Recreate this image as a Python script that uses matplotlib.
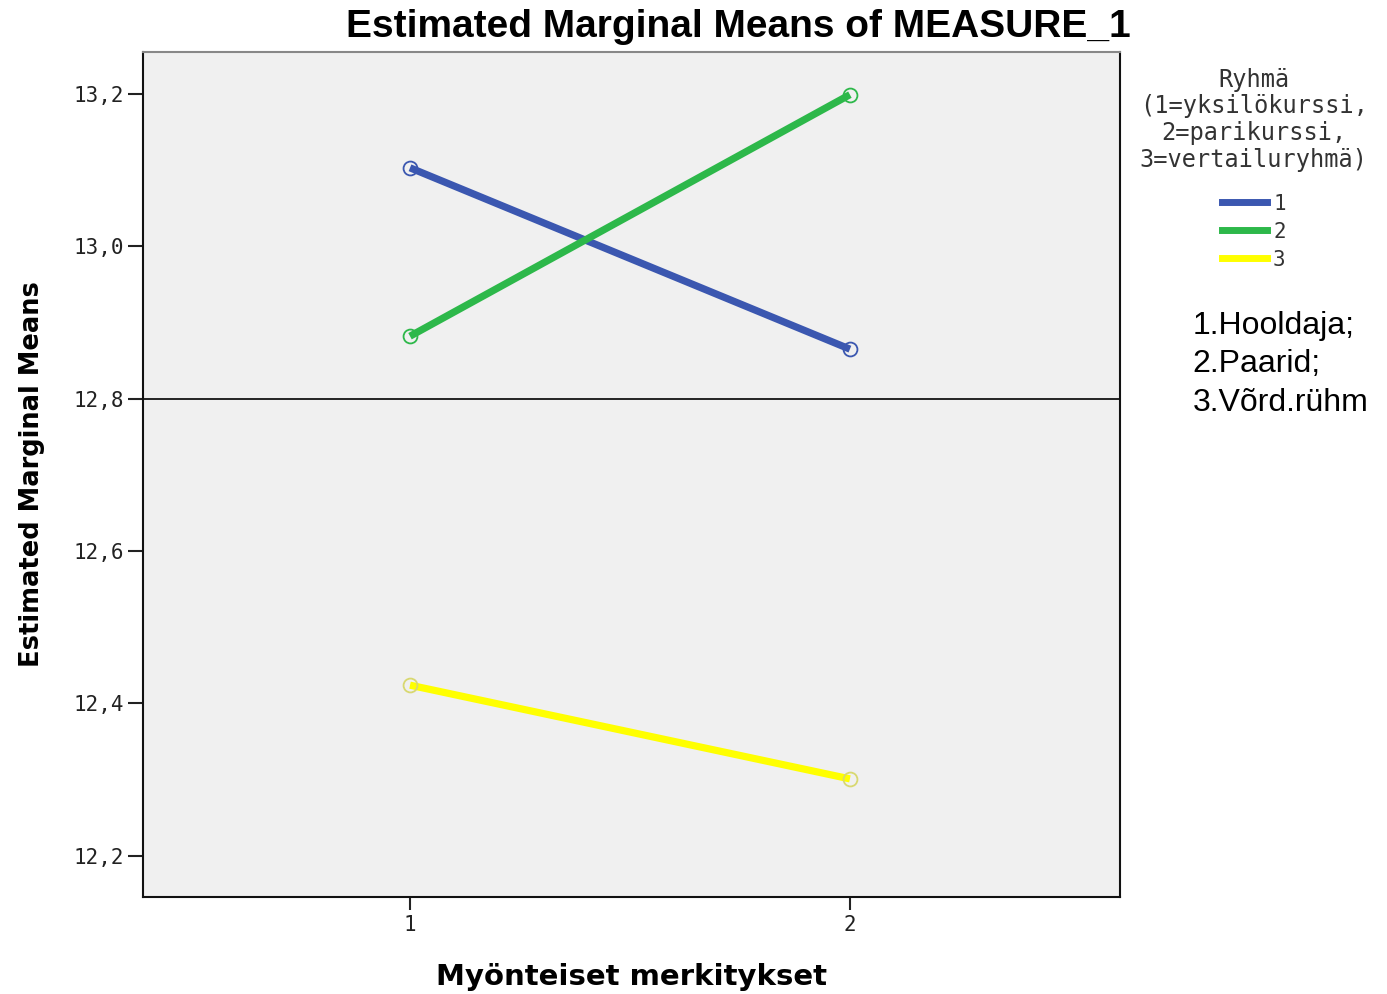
import numpy as np
import matplotlib
matplotlib.use("Agg")
import matplotlib.pyplot as plt
from matplotlib.lines import Line2D

# data
x_levels = [1, 2]
groups = ["1", "2", "3"]
means_g1 = [13.103, 12.865]
means_g2 = [12.882, 13.199]
means_g3 = [12.424, 12.301]
y_ticks = [12.2, 12.4, 12.6, 12.8, 13.0, 13.2]
ref_line = 12.8

colors = ["#3b57b0", "#2db84a", "#ffff00"]
edge_colors = ["#3b57b0", "#2db84a", "#d8d870"]
mono = "DejaVu Sans Mono"

fig = plt.figure(figsize=(13.87, 9.94), dpi=100)
ax = fig.add_axes([0.1031, 0.0976, 0.7044, 0.8501])
ax.set_facecolor("#f0f0f0")

for vals, c, ec in zip([means_g1, means_g2, means_g3], colors, edge_colors):
    ax.plot(x_levels, vals, color=c, linewidth=5.2, solid_capstyle="butt")
    ax.plot(x_levels, vals, linestyle="none", marker="o", markersize=10,
            markerfacecolor="none", markeredgecolor=ec, markeredgewidth=1.3)

ax.axhline(ref_line, color="black", linewidth=1.2)

ax.set_xlim(0.393, 2.614)
ax.set_ylim(12.146, 13.255)
ax.set_xticks(x_levels)
ax.set_xticklabels([str(v) for v in x_levels], family=mono, fontsize=15)
ax.set_yticks(y_ticks)
ax.set_yticklabels([f"{v:.1f}".replace(".", ",") for v in y_ticks], family=mono, fontsize=15)
ax.tick_params(axis="y", direction="out", length=11, width=1.5, colors="#222222", pad=3)
ax.tick_params(axis="x", direction="out", length=9, width=1.5, colors="#222222", pad=4)

for side in ["left", "bottom", "right"]:
    ax.spines[side].set_linewidth(1.5)
    ax.spines[side].set_color("#111111")
ax.spines["top"].set_color("#888888")
ax.spines["top"].set_linewidth(1.5)

ax.set_xlabel("Myönteiset merkitykset", fontsize=21, fontweight="bold", labelpad=20)
ax.set_ylabel("Estimated Marginal Means", fontsize=18.5, fontweight="bold", labelpad=20)
fig.text(0.532, 0.973, "Estimated Marginal Means of MEASURE_1", fontsize=28,
         fontweight="bold", family="Liberation Sans", ha="center", va="center")

# legend title drawn on its own so it can sit a bit higher than the entries
fig.text(0.904, 0.8795, "Ryhmä\n(1=yksilökurssi,\n2=parikurssi,\n3=vertailuryhmä)",
         family=mono, fontsize=17, color="#333333", ha="center", va="center",
         multialignment="center", linespacing=1.15)

handles = [Line2D([0], [0], color=c, linewidth=5) for c in colors]
fig.legend(handles, groups, loc="upper center", bbox_to_anchor=(0.904, 0.824),
           frameon=False, handlelength=2.15, handletextpad=0.3,
           labelspacing=0.38, labelcolor="#333333",
           prop={"family": mono, "size": 15})

fig.text(0.86, 0.6335, "1.Hooldaja;\n2.Paarid;\n3.Võrd.rühm", fontsize=23,
         family="Liberation Sans", va="center", ha="left", linespacing=1.38)

fig.savefig("out.png", dpi=100)
